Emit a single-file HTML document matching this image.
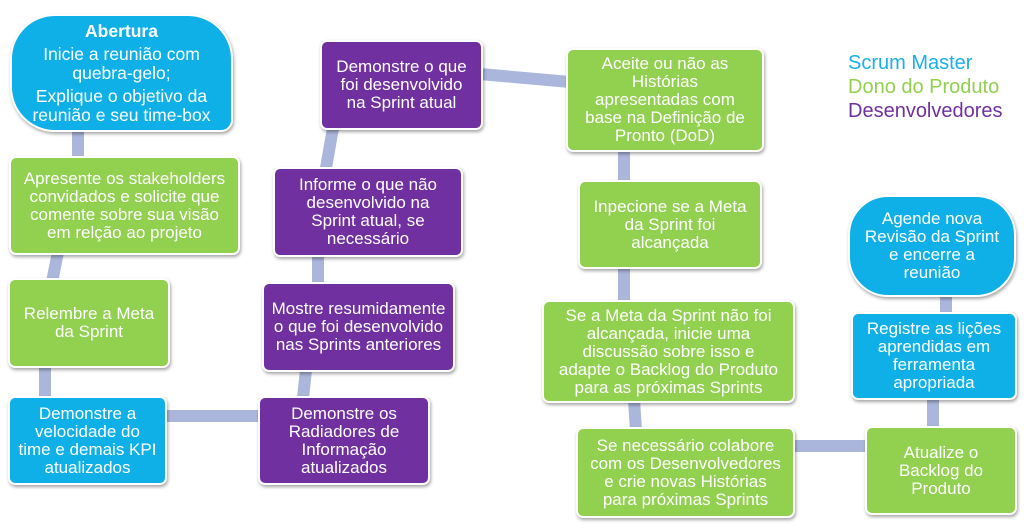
<!DOCTYPE html>
<html><head><meta charset="utf-8">
<style>
body{margin:0;width:1024px;height:529px;background:#fff;position:relative;overflow:hidden;font-family:"Liberation Sans",sans-serif;}
.b{position:absolute;box-sizing:border-box;display:flex;flex-direction:column;align-items:center;justify-content:center;text-align:center;color:#fff;font-size:17px;line-height:18px;border-radius:7px;border:2px solid #fff;box-shadow:1px 2px 3px rgba(0,0,0,.35);padding:0;white-space:nowrap;}
.bl{background:#0fb0e8}.g{background:#92d050}.p{background:#7030a0}
.lg{position:absolute;left:848px;font-size:20px;}
svg{position:absolute;left:0;top:0}
</style></head><body>
<svg width="1024" height="529"><g stroke="#aab6db" stroke-width="12" fill="none">
<line x1="78" y1="128" x2="78" y2="160"/>
<line x1="58" y1="252" x2="52" y2="282"/>
<line x1="45" y1="366" x2="45" y2="398"/>
<line x1="165" y1="416" x2="262" y2="416"/>
<line x1="306" y1="370" x2="303" y2="398"/>
<line x1="318" y1="254" x2="318" y2="284"/>
<line x1="333" y1="128" x2="326" y2="168"/>
<line x1="480" y1="74" x2="570" y2="82"/>
<line x1="624" y1="150" x2="624" y2="180"/>
<line x1="624" y1="266" x2="624" y2="300"/>
<line x1="634" y1="400" x2="636" y2="430"/>
<line x1="793" y1="446" x2="866" y2="446"/>
<line x1="933" y1="396" x2="933" y2="428"/>
<line x1="946" y1="294" x2="946" y2="314"/>
</g></svg>
<div class="b bl" style="left:10px;top:14px;width:223px;height:118px;border-radius:45px 45px 12px 45px;line-height:19px;font-size:17.5px"><b>Abertura</b><div style="margin-top:4px">Inicie a reunião com<br>quebra-gelo;</div><div style="margin-top:4px">Explique o objetivo da<br>reunião e seu time-box</div></div>
<div class="b g" style="left:9px;top:156px;width:231px;height:99px">Apresente os stakeholders<br>convidados e solicite que<br>comente sobre sua visão<br>em relção ao projeto</div>
<div class="b g" style="left:8px;top:278px;width:162px;height:90px">Relembre a Meta<br>da Sprint</div>
<div class="b bl" style="left:8px;top:396px;width:159px;height:89px">Demonstre a<br>velocidade do<br>time e demais KPI<br>atualizados</div>
<div class="b p" style="left:258px;top:396px;width:172px;height:89px">Demonstre os<br>Radiadores de<br>Informação<br>atualizados</div>
<div class="b p" style="left:262px;top:282px;width:193px;height:90px">Mostre resumidamente<br>o que foi desenvolvido<br>nas Sprints anteriores</div>
<div class="b p" style="left:273px;top:167px;width:190px;height:90px">Informe o que não<br>desenvolvido na<br>Sprint atual, se<br>necessário</div>
<div class="b p" style="left:320px;top:40px;width:163px;height:90px">Demonstre o que<br>foi desenvolvido<br>na Sprint atual</div>
<div class="b g" style="left:566px;top:48px;width:198px;height:104px">Aceite ou não as<br>Histórias<br>apresentadas com<br>base na Definição de<br>Pronto (DoD)</div>
<div class="b g" style="left:578px;top:180px;width:184px;height:89px">Inpecione se a Meta<br>da Sprint foi<br>alcançada</div>
<div class="b g" style="left:542px;top:300px;width:253px;height:103px">Se a Meta da Sprint não foi<br>alcançada, inicie uma<br>discussão sobre isso e<br>adapte o Backlog do Produto<br>para as próximas Sprints</div>
<div class="b g" style="left:576px;top:427px;width:219px;height:91px">Se necessário colabore<br>com os Desenvolvedores<br>e crie novas Histórias<br>para próximas Sprints</div>
<div class="b g" style="left:865px;top:426px;width:152px;height:89px">Atualize o<br>Backlog do<br>Produto</div>
<div class="b bl" style="left:851px;top:312px;width:166px;height:88px">Registre as lições<br>aprendidas em<br>ferramenta<br>apropriada</div>
<div class="b bl" style="left:848px;top:195px;width:168px;height:102px;border-radius:40px">Agende nova<br>Revisão da Sprint<br>e encerre a<br>reunião</div>
<div class="lg" style="top:52px;color:#1ab0e8">Scrum Master</div>
<div class="lg" style="top:76px;color:#92d050">Dono do Produto</div>
<div class="lg" style="top:100px;color:#7030a0">Desenvolvedores</div>
</body></html>
